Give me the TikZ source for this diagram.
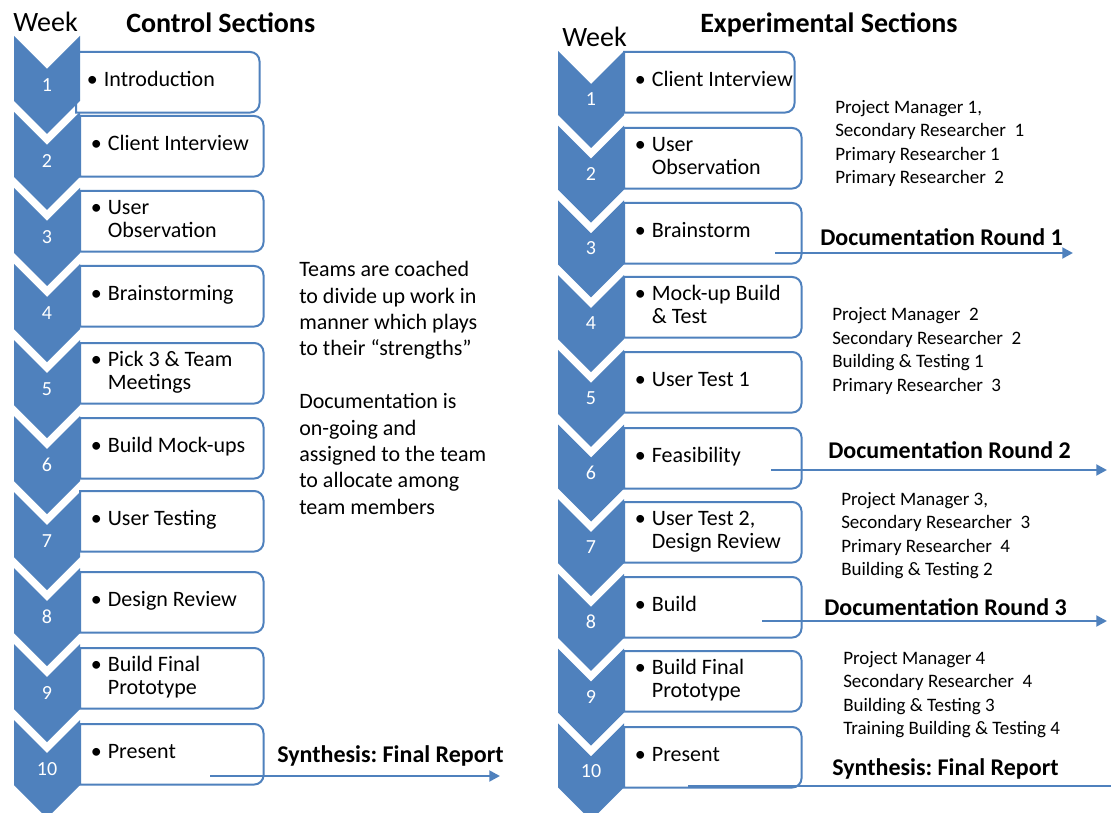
\documentclass[tikz,border=0pt]{standalone}
\usepackage{fontspec}
\setmainfont{Carlito}
\usetikzlibrary{arrows.meta,positioning}

\definecolor{chevblue}{RGB}{79,129,189}
% bullet item, rows of one item never break
\newcommand{\itm}[1]{\mbox{\textbullet\hspace{4.5pt}\begin{tabular}[t]{@{}l@{}}#1\end{tabular}}}
\frenchspacing

\begin{document}
\begin{tikzpicture}[x=0.75pt, y=-0.75pt,
    chev/.style={fill=chevblue},
    num/.style={text=white, inner sep=0pt, font=\fontsize{15}{18}\selectfont},
    stepbox/.style={anchor=north west, inner xsep=8pt, inner ysep=0pt, minimum height=45pt, align=flush left, font=\fontsize{16.5}{17.25}\selectfont},
    boxedge/.style={draw=chevblue, line width=1.5pt},
    flow/.style={draw=chevblue, line width=2.2pt, -{Triangle[length=8pt,width=8pt]}},
    head/.style={anchor=base west, inner sep=0pt, font=\fontsize{21}{24}\selectfont\bfseries},
    week/.style={anchor=base west, inner sep=0pt, font=\fontsize{21}{24}\selectfont},
    lbl/.style={anchor=base west, inner sep=0pt, font=\fontsize{18}{21}\selectfont\bfseries},
    roles/.style={anchor=west, align=flush left, inner sep=0pt, font=\fontsize{14.25}{17.6}\selectfont},
    note/.style={anchor=west, align=flush left, inner sep=0pt, font=\fontsize{16.5}{19.8}\selectfont}
]
\useasboundingbox (0,0) rectangle (1111,813);
\fill[white] (0,0) rectangle (1111,813);

% headings
\node[week] (lweek) at (13,32) {Week};
\node[head] (ctitle) at (126,33) {Control Sections};
\node[week] (rweek) at (562,47) {Week};
\node[head] (etitle) at (700,33) {Experimental Sections};

% chevrons with week numbers
\foreach \i in {1,...,10} {
  \pgfmathsetmacro\ty{36+76*(\i-1)}
  \fill[chev] (14,\ty) -- (47,\ty+33) -- (80,\ty) -- (80,\ty+65) -- (47,\ty+98) -- (14,\ty+65) -- cycle;
  \node[num] (lw\i) at (47,\ty+49) {\i};
  \pgfmathsetmacro\ty{51+74.7*(\i-1)}
  \fill[chev] (558,\ty) -- (591,\ty+33) -- (624,\ty) -- (624,\ty+64) -- (591,\ty+97) -- (558,\ty+64) -- cycle;
  \node[num] (rw\i) at (591,\ty+48) {\i};
}

% control section steps
\foreach \i/\x/\y/\txt in {1/76/52/{Introduction}, 2/80/116/{Client Interview},
    3/80/191/{User\\Observation}, 4/80/266/{Brainstorming}, 5/80/343/{Pick 3 \& Team\\Meetings},
    6/80/418/{Build Mock-ups}, 7/80/491/{User Testing}, 8/80/572/{Design Review},
    9/80/648/{Build Final\\Prototype}, 10/80/724/{Present}} {
  \node[stepbox, text width=121.25pt] (c\i) at (\x,\y) {\itm{\txt}};
  \draw[boxedge] (c\i.south west) -- (c\i.north west) -- ([xshift=-7pt]c\i.north east)
    arc[start angle=90, end angle=0, radius=7pt] -- ([yshift=7pt]c\i.south east)
    arc[start angle=0, end angle=-90, radius=7pt] -- cycle;
}

% experimental section steps
\foreach \i/\w/\y/\txt in {1/111.5/52/{Client Interview}, 2/116.75/128/{User\\Observation},
    3/116.75/203/{Brainstorm}, 4/116.75/277/{Mock-up Build\\\& Test}, 5/116.75/352/{User Test 1},
    6/116.75/428/{Feasibility}, 7/116.75/502/{User Test 2,\\Design Review}, 8/116.75/577/{Build},
    9/116.75/651/{Build Final\\Prototype}, 10/116.75/727/{Present}} {
  \node[stepbox, text width=\w pt] (e\i) at (624,\y) {\itm{\txt}};
  \draw[boxedge] (e\i.south west) -- (e\i.north west) -- ([xshift=-7pt]e\i.north east)
    arc[start angle=90, end angle=0, radius=7pt] -- ([yshift=7pt]e\i.south east)
    arc[start angle=0, end angle=-90, radius=7pt] -- cycle;
}

% notes
\node[note] (coach) at (299,388) {Teams are coached\\to divide up work in\\manner which plays\\to their “strengths”\\[19.8pt]Documentation is\\on-going and\\assigned to the team\\to allocate among\\team members};

\node[roles] (team1) at (835,143.5) {Project Manager 1,\\Secondary Researcher~ 1\\Primary Researcher 1\\Primary Researcher~ 2};
\node[roles] (team2) at (832,351) {Project Manager~ 2\\Secondary Researcher~ 2\\Building \& Testing 1\\Primary Researcher~ 3};
\node[roles] (team3) at (841,535.5) {Project Manager 3,\\Secondary Researcher~ 3\\Primary Researcher~ 4\\Building \& Testing 2};
\node[roles] (team4) at (843,694.5) {Project Manager 4\\Secondary Researcher~ 4\\Building \& Testing 3\\Training Building \& Testing 4};

% documentation arrows
\coordinate (syn1a) at (210,776);
\coordinate (syn1b) at (500,776);
\draw[flow] (syn1a) -- (syn1b);
\node[lbl] (syn1) at (277,762) {Synthesis: Final Report};

\coordinate (doc1a) at (775,253);
\coordinate (doc1b) at (1073,253);
\draw[flow] (doc1a) -- (doc1b);
\node[lbl] (doc1) at (820,246) {Documentation Round 1};

\coordinate (doc2a) at (771,470);
\coordinate (doc2b) at (1107,470);
\draw[flow] (doc2a) -- (doc2b);
\node[lbl] (doc2) at (828,458) {Documentation Round 2};

\coordinate (doc3a) at (762,621);
\coordinate (doc3b) at (1107,621);
\draw[flow] (doc3a) -- (doc3b);
\node[lbl] (doc3) at (824,615) {Documentation Round 3};

\coordinate (syn2a) at (688,786);
\coordinate (syn2b) at (1111,786);
\draw[flow, -] (syn2a) -- (syn2b);
\node[lbl] (syn2) at (832,775) {Synthesis: Final Report};
\end{tikzpicture}
\end{document}
